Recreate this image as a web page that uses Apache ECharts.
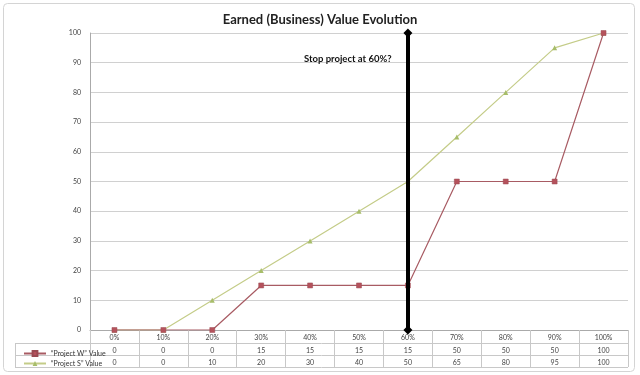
<!DOCTYPE html>
<html><head><meta charset="utf-8">
<script src="https://cdn.jsdelivr.net/npm/echarts@6/dist/echarts.min.js"></script>
<style>html,body{margin:0;padding:0;background:#fff}#c{width:640px;height:375px}</style>
</head><body><div id="c"></div>
<script>
const categories = ['0%','10%','20%','30%','40%','50%','60%','70%','80%','90%','100%'];
const projectW = [0,0,0,15,15,15,15,50,50,50,100];
const projectS = [0,0,10,20,30,40,50,65,80,95,100];
const nameW = '\u201cProject W\u201d Value';
const nameS = '\u201cProject S\u201d Value';
const stopAt = '60%';
const yTicks = [0,10,20,30,40,50,60,70,80,90,100];

const chart = echarts.init(document.getElementById('c'));
const grey = '#c8c8c8';
const font = 'Lato, "Liberation Sans", sans-serif';
chart.setOption({
  animation: false,
  title: [
    {text: 'Earned (Business) Value Evolution', left: 'center', top: 8,
     textStyle: {fontFamily: font, fontWeight: 'bold', fontSize: 13, color: '#222'}},
    {text: 'Stop project at ' + stopAt + '?', left: 299, top: 49,
     textStyle: {fontFamily: font, fontWeight: 'bold', fontSize: 9.5, color: '#111'}}
  ],
  legend: {
    orient: 'vertical', left: 18, top: 345, itemGap: 3, itemWidth: 22, itemHeight: 6,
    textStyle: {fontFamily: font, fontSize: 7, color: '#333'},
    data: [nameW, nameS]
  },
  grid: {left: 90, right: 12, top: 33, bottom: 45},
  xAxis: {
    type: 'category', data: categories, boundaryGap: true,
    axisLine: {lineStyle: {color: '#aaa'}},
    axisTick: {show: true, interval: 0, length: 37, lineStyle: {color: grey}},
    axisLabel: {
      interval: 0, margin: 2, fontFamily: font, fontSize: 7, color: '#444', lineHeight: 12.2,
      formatter: function (v, i) { return v + '\n' + projectW[i] + '\n' + projectS[i]; }
    }
  },
  yAxis: {
    type: 'value', min: 0, max: 100, interval: 10,
    axisLine: {show: true, lineStyle: {color: '#aaa'}},
    axisTick: {show: false},
    axisLabel: {margin: 9, fontFamily: font, fontSize: 7, color: '#444'},
    splitLine: {lineStyle: {color: '#d0d0d0'}}
  },
  series: [
    {name: nameW, type: 'line', data: projectW, symbol: 'rect', symbolSize: 5,
     lineStyle: {color: '#a85b63', width: 1.2}, itemStyle: {color: '#b5525c', borderColor: '#9a4a52', borderWidth: 0.5}, z: 3,
     markLine: {
       silent: true, symbol: ['diamond','diamond'], symbolSize: 9,
       lineStyle: {color: '#000', width: 4, type: 'solid'}, label: {show: false},
       data: [[{coord: [stopAt, yTicks[0]]}, {coord: [stopAt, yTicks[yTicks.length-1]]}]]
     }},
    {name: nameS, type: 'line', data: projectS, symbol: 'triangle', symbolSize: 5,
     lineStyle: {color: '#c4cc88', width: 1.2}, itemStyle: {color: '#a7bd6a'}, z: 2}
  ],
  graphic: [
    {type: 'rect', shape: {x: 3.5, y: 3.5, width: 631, height: 368, r: 4}, style: {fill: null, stroke: '#d4d4d4', lineWidth: 1}, silent: true},
    {type: 'line', shape: {x1: 15, y1: 343.5, x2: 628, y2: 343.5}, style: {stroke: grey, lineWidth: 1}},
    {type: 'line', shape: {x1: 15, y1: 355.5, x2: 628, y2: 355.5}, style: {stroke: grey, lineWidth: 1}},
    {type: 'line', shape: {x1: 15, y1: 367.5, x2: 628, y2: 367.5}, style: {stroke: grey, lineWidth: 1}},
    {type: 'line', shape: {x1: 15.5, y1: 343, x2: 15.5, y2: 368}, style: {stroke: grey, lineWidth: 1}}
  ]
});
</script></body></html>
